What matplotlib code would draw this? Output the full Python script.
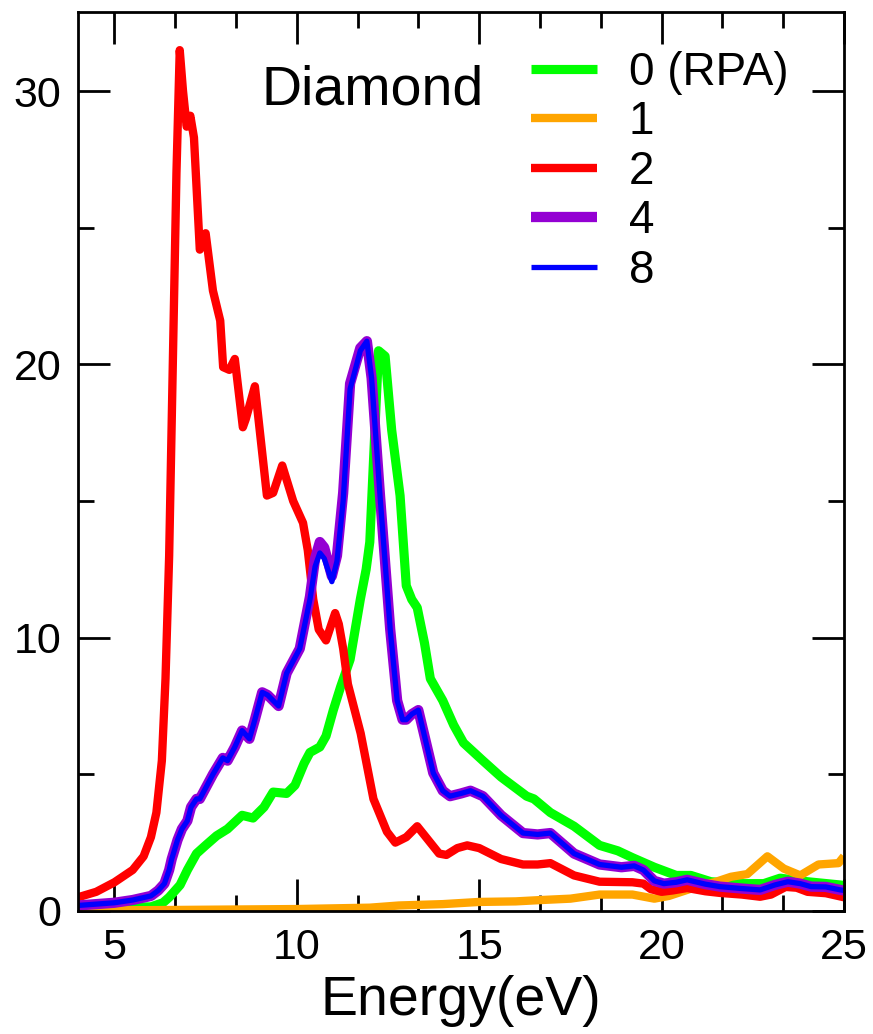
import matplotlib
matplotlib.use("Agg")
import matplotlib.pyplot as plt
from matplotlib.ticker import MultipleLocator

plt.rcParams['font.family'] = ['Liberation Sans', 'DejaVu Sans']

# Absorption spectra of diamond vs. photon energy
x_rpa = [4.0, 5.0, 6.0, 6.33, 6.5, 6.7, 6.8, 7.0, 7.25, 7.5, 7.8, 8.1, 8.5, 8.8, 9.1,
         9.35, 9.72, 9.95, 10.2, 10.36, 10.63, 10.8, 11.0, 11.2, 11.46, 11.74, 11.9,
         12.0, 12.14, 12.24, 12.42, 12.6, 12.83, 13.0, 13.15, 13.3, 13.5, 13.66, 14.0,
         14.3, 14.57, 15.1, 15.6, 16.3, 16.5, 16.95, 17.6, 18.3, 18.8, 19.2, 19.8, 20.4,
         20.8, 21.35, 22.1, 22.8, 23.25, 24.0, 24.9, 25.0]
y_rpa = [0.1, 0.12, 0.15, 0.3, 0.5, 0.8, 0.95, 1.5, 2.1, 2.4, 2.75, 3.0, 3.5, 3.4, 3.8,
         4.35, 4.3, 4.6, 5.4, 5.8, 6.0, 6.4, 7.35, 8.2, 9.2, 11.4, 12.5,
         13.5, 17.6, 20.5, 20.3, 17.6, 15.2, 11.9, 11.4, 11.1, 9.8, 8.5, 7.7,
         6.8, 6.15, 5.5, 4.9, 4.2, 4.1, 3.6, 3.1, 2.4, 2.2, 1.95, 1.6, 1.3,
         1.3, 1.07, 1.0, 1.0, 1.2, 1.07, 0.95, 0.93]

x_n1 = [4.0, 6.0, 8.0, 10.0, 12.0, 12.8, 14.0, 15.0, 16.0, 16.7, 17.5, 18.3, 19.2, 19.8,
        20.2, 20.7, 21.1, 21.45, 21.9, 22.35, 22.9, 23.35, 23.8, 24.3, 24.85, 25.0]
y_n1 = [0.02, 0.03, 0.05, 0.07, 0.12, 0.2, 0.25, 0.33, 0.35, 0.4, 0.45, 0.6, 0.6, 0.45,
        0.55, 0.77, 0.95, 1.05, 1.25, 1.35, 2.0, 1.55, 1.3, 1.7, 1.75, 2.0]

x_n2 = [4.0, 4.5, 5.0, 5.5, 5.8, 6.0, 6.15, 6.3, 6.4, 6.5, 6.6, 6.7, 6.79, 6.88, 6.98,
        7.08, 7.18, 7.34, 7.5, 7.7, 7.9, 7.98, 8.15, 8.3, 8.52, 8.6, 8.85, 9.18, 9.35,
        9.6, 9.9, 10.17, 10.3, 10.45, 10.6, 10.8, 11.05, 11.15, 11.27, 11.4, 11.75,
        12.1, 12.47, 12.7, 13.0, 13.3, 13.6, 13.9, 14.1, 14.4, 14.67, 15.0, 15.6, 16.2,
        16.6, 16.95, 17.6, 18.3, 19.2, 19.5, 19.7, 20.0, 20.3, 20.7, 21.2, 21.6, 22.2,
        22.7, 23.0, 23.4, 23.7, 24.0, 24.5, 25.0]
y_n2 = [0.5, 0.7, 1.05, 1.5, 2.0, 2.7, 3.6, 5.5, 8.5, 13.0, 20.0, 27.0, 31.5, 30.0, 28.7,
        29.1, 28.3, 24.2, 24.8, 22.7, 21.6, 19.9, 19.8, 20.2, 17.7, 18.0, 19.2, 15.2, 15.3,
        16.3, 15.0, 14.2, 13.2, 11.4, 10.3, 9.9, 10.9, 10.5, 9.6, 8.3, 6.5,
        4.1, 2.9, 2.5, 2.7, 3.1, 2.6, 2.1, 2.05, 2.3, 2.4, 2.3, 1.9, 1.7,
        1.7, 1.75, 1.3, 1.07, 1.05, 1.0, 0.8, 0.7, 0.75, 0.84, 0.72, 0.66, 0.6,
        0.52, 0.6, 0.88, 0.85, 0.7, 0.65, 0.5]

x_n4 = [4.0, 4.5, 5.0, 5.5, 6.0, 6.2, 6.37, 6.5, 6.57, 6.73, 6.85, 7.0, 7.1, 7.25, 7.34,
        7.5, 7.7, 7.97, 8.1, 8.3, 8.5, 8.7, 8.85, 9.05, 9.2, 9.5, 9.72, 10.08, 10.36,
        10.5, 10.63, 10.75, 10.96, 11.1, 11.27, 11.46, 11.74, 11.92, 12.05, 12.28, 12.56,
        12.75, 12.9, 13.0, 13.15, 13.33, 13.5, 13.74, 14.0, 14.2, 14.5, 14.76, 15.1, 15.6,
        16.2, 16.6, 16.95, 17.6, 18.3, 18.9, 19.25, 19.5, 19.8, 20.06, 20.4, 20.7, 21.2,
        21.6, 22.2, 22.7, 23.1, 23.46, 23.8, 24.1, 24.5, 24.9, 25.0]
y_n4 = [0.2, 0.25, 0.3, 0.4, 0.55, 0.75, 1.0, 1.5, 1.9, 2.6, 3.0, 3.3, 3.8, 4.1, 4.1,
        4.5, 5.0, 5.6, 5.5, 6.0, 6.6, 6.3, 7.0, 8.0, 7.9, 7.5, 8.7, 9.6, 11.5,
        12.9, 13.5, 13.3, 12.25, 13.0, 15.3, 19.3, 20.6, 20.85, 19.5, 15.2, 10.3,
        7.7, 7.0, 7.0, 7.2, 7.35, 6.4, 5.05, 4.4, 4.2, 4.3, 4.4, 4.2, 3.5,
        2.85, 2.8, 2.85, 2.1, 1.7, 1.6, 1.65, 1.5, 1.1, 1.0, 1.05, 1.14, 0.98,
        0.89, 0.82, 0.77, 0.95, 1.07, 1.0, 0.89, 0.88, 0.77, 0.75]

x_n8 = x_n4
y_n8 = [0.2, 0.25, 0.3, 0.4, 0.55, 0.75, 1.0, 1.5, 1.9, 2.6, 3.0, 3.3, 3.8, 4.1, 4.1,
        4.5, 5.0, 5.6, 5.5, 6.0, 6.6, 6.3, 7.0, 8.0, 7.9, 7.5, 8.7, 9.6, 11.4,
        12.6, 13.1, 12.9, 12.05, 12.8, 15.0, 19.1, 20.5, 20.85, 19.5, 15.2, 10.3,
        7.7, 7.0, 7.0, 7.2, 7.35, 6.4, 5.05, 4.4, 4.2, 4.3, 4.4, 4.2, 3.5,
        2.85, 2.8, 2.85, 2.1, 1.7, 1.6, 1.65, 1.5, 1.1, 1.0, 1.05, 1.14, 0.98,
        0.89, 0.82, 0.77, 0.95, 1.07, 1.0, 0.89, 0.88, 0.77, 0.75]

labels = ['0 (RPA)', '1', '2', '4', '8']
colors = ['#00ff00', '#ffa500', '#ff0000', '#9400d3', '#0000ff']
widths = [6.6, 6.0, 6.0, 7.4, 3.8]

fig = plt.figure(figsize=(8.73, 10.34), dpi=100)
ax = fig.add_axes([0.0893, 0.119, 0.8775, 0.8695])

series = [(x_rpa, y_rpa), (x_n1, y_n1), (x_n2, y_n2), (x_n4, y_n4), (x_n8, y_n8)]
for (xs, ys), lab, c, lw in zip(series, labels, colors, widths):
    ax.plot(xs, ys, color=c, lw=lw, label=lab, solid_joinstyle='round',
            solid_capstyle='butt')

ax.set_xlim(4, 25)
ax.set_ylim(0, 32.9)
ax.xaxis.set_major_locator(MultipleLocator(5))
ax.xaxis.set_minor_locator(MultipleLocator(5 / 3))
ax.yaxis.set_major_locator(MultipleLocator(10))
ax.yaxis.set_minor_locator(MultipleLocator(5))
ax.tick_params(which='both', direction='in', top=True, right=True, width=2,
               labelsize=31)
ax.tick_params(which='major', length=23, pad=12)
ax.tick_params(which='minor', length=11.5)
for s in ax.spines.values():
    s.set_linewidth(2)

ax.set_xlabel('Energy(eV)', fontsize=40, labelpad=5)
ax.text(0.239, 0.8966, 'Diamond', transform=ax.transAxes, fontsize=40,
        ha='left', va='baseline')

ax.legend(loc='upper left', bbox_to_anchor=(0.592, 0.957), frameon=False,
          fontsize=33, handlelength=1.44, handletextpad=0.68, labelspacing=0.12,
          borderpad=0, borderaxespad=0)

fig.savefig('out.png', dpi=100)
